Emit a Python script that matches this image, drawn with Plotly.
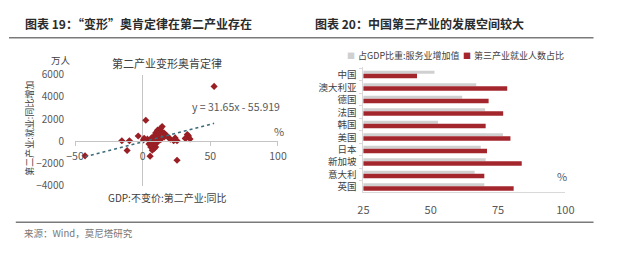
import plotly.graph_objects as go

W, H = 620, 263

# ---------------- data ----------------
# Left: scatter of secondary-industry GDP growth (%) vs employment change (万人)
gdp_growth = [52.8, 2.3, -42.6, -15.4, -9.8, -11.5, -3.3, 5.5, 25.4, 33.9,
              35.0, 32.0, 33.0, 31.5, 1.1, 3.5, 4.7, 6.0, 7.2, 8.4,
              9.6, 10.8, 13.3, 14.4, 12.0, 15.7, 16.9, 18.0, 19.2, 20.4,
              22.9, 25.4, 24.0, 9.6, 7.1, 10.8, 13.3, 6.5, 8.0, 11.5,
              12.5, 14.0, 10.0, 9.0, 7.5, 16.0, 0.5, 11.0, 13.0, 6.0, 8.5]
emp_change = [4950, 1890, -1320, 40, 40, -840, 470, -1350, -1720, 470,
              200, 300, 600, 250, 270, 190, -240, -530, 0, 470,
              750, 890, 1170, 1320, 600, 750, 610, 470, 330, 190,
              40, 40, 300, -530, -810, -100, 150, 300, -300, 350,
              950, 850, 200, -150, 150, 400, 120, 1000, 700, 50, -650]
trend_slope = 31.65
trend_intercept = -55.919
x_ticks_left = [-50, 0, 50, 100]
y_ticks_left = [-4000, -2000, 0, 2000, 4000, 6000]

# Right: service share of GDP vs tertiary employment share (%)
countries = ["中国", "澳大利亚", "德国", "法国", "韩国", "美国", "日本", "新加坡", "意大利", "英国"]
service_gdp_share = [51.4, 66.9, 61.7, 70.2, 52.7, 76.8, 68.6, 70.4, 66.3, 69.9]
tertiary_emp_share = [44.9, 78.4, 71.5, 76.9, 70.4, 79.6, 70.9, 83.8, 69.9, 80.8]
x_ticks_right = [25, 50, 75, 100]

RED = "#a3262c"
DARK_RED = "#9a1f24"
GRAY_BAR = "#d0d0d0"
AXIS = "#c4c4c4"
TXT = "#595959"
FONT = "Noto Sans CJK SC"


def fx(p):
    return p / W


def fy(p):
    return 1 - p / H


fig = go.Figure()

# ---------------- left scatter ----------------
fig.add_trace(go.Scatter(
    x=gdp_growth, y=emp_change, mode="markers",
    marker=dict(symbol="diamond", size=5.5, color=DARK_RED, line=dict(width=0)),
    xaxis="x", yaxis="y", showlegend=False, hoverinfo="x+y"))

x_lo, x_hi = min(gdp_growth), max(gdp_growth)
fig.add_trace(go.Scatter(
    x=[x_lo, x_hi],
    y=[trend_slope * x_lo + trend_intercept, trend_slope * x_hi + trend_intercept],
    mode="lines", line=dict(color="#3b6b7b", width=1.6, dash="dot"),
    xaxis="x", yaxis="y", showlegend=False, hoverinfo="skip"))

# ---------------- right bars ----------------
fig.add_trace(go.Bar(
    y=countries, x=service_gdp_share, orientation="h", base=0,
    marker=dict(color=GRAY_BAR, line=dict(width=0)),
    width=0.25, offset=-0.32, name="占GDP比重:服务业增加值",
    xaxis="x2", yaxis="y2", showlegend=False))
fig.add_trace(go.Bar(
    y=countries, x=tertiary_emp_share, orientation="h", base=0,
    marker=dict(color=RED, line=dict(width=0)),
    width=0.35, offset=-0.07, name="第三产业就业人数占比",
    xaxis="x2", yaxis="y2", showlegend=False))

# left plot geometry
lx0, lx1 = 68, 277
ly0, ly1 = 70, 188
y_dom = [fy(ly1), fy(ly0)]
y_rng = [-4000, 6000]
zero_pos = y_dom[0] + (0 - y_rng[0]) / (y_rng[1] - y_rng[0]) * (y_dom[1] - y_dom[0])
x_rng = [-50, 100]
x_dom = [fx(lx0), fx(lx1)]
xzero_pos = x_dom[0] + (0 - x_rng[0]) / (x_rng[1] - x_rng[0]) * (x_dom[1] - x_dom[0])

# right plot geometry
rx0, rx1 = 365, 573
ry0, ry1 = 62, 195

fig.update_layout(
    width=W, height=H, margin=dict(l=0, r=0, t=0, b=0),
    paper_bgcolor="white", plot_bgcolor="white",
    font=dict(family=FONT, size=10, color=TXT),
    barmode="overlay",
    xaxis=dict(domain=x_dom, range=x_rng, anchor="free", position=zero_pos,
               tickvals=x_ticks_left, showline=True, linecolor=AXIS, linewidth=1,
               ticks="outside", ticklen=4, tickcolor=AXIS,
               showgrid=False, zeroline=True, zerolinecolor=AXIS, zerolinewidth=1,
               tickfont=dict(size=10.5, color=TXT), ticklabelstandoff=1),
    yaxis=dict(domain=y_dom, range=y_rng, anchor="x", tickvals=y_ticks_left,
               showline=False, showgrid=False, zeroline=False, ticks="",
               tickfont=dict(size=10, color=TXT), ticklabelstandoff=10),
    yaxis3=dict(domain=y_dom, range=y_rng, overlaying="y", anchor="free",
                position=xzero_pos, tickvals=y_ticks_left, showticklabels=False,
                ticks="outside", ticklen=4, tickcolor=AXIS, showline=False,
                showgrid=False, zeroline=False),
    xaxis2=dict(domain=[fx(rx0), fx(rx1)], range=[25, 100], anchor="y2",
                tickvals=x_ticks_right, showline=True, linecolor="#d9d9d9",
                showgrid=False, zeroline=False, ticks="",
                tickfont=dict(size=11, color=TXT), ticklabelstandoff=8),
    yaxis2=dict(domain=[fy(ry1), fy(ry0)], anchor="x2", type="category",
                range=[9.4, -0.6], showline=True, linecolor="#d9d9d9",
                ticks="outside", tickson="boundaries", ticklen=3, tickcolor="#d9d9d9",
                showgrid=False, zeroline=False,
                tickfont=dict(size=9.5, color="#404040"), ticklabelstandoff=4),
)

ann = []


def add_text(text, x, y, size=10, color=TXT, xanchor="center", yanchor="middle",
             angle=0, bold=False):
    ann.append(dict(text=f"<b>{text}</b>" if bold else text, x=fx(x), y=fy(y),
                    xref="paper", yref="paper", showarrow=False,
                    xanchor=xanchor, yanchor=yanchor, textangle=angle,
                    font=dict(size=size, color=color, family=FONT)))


# headers
add_text("图表 19：“变形”奥肯定律在第二产业存在", 14, 15, size=12, color="#2b2b2b",
         xanchor="left", bold=True)
add_text("图表 20：中国第三产业的发展空间较大", 313, 15, size=12, color="#2b2b2b",
         xanchor="left", bold=True)

# left chart texts
add_text("第二产业变形奥肯定律", 163, 57, size=11, color="#404040")
add_text("万人", 54, 54, size=9.5, color="#404040")
add_text("第二产业:就业:同比增加", 21, 127, size=9, color="#404040", angle=-90)
add_text("GDP:不变价:第二产业:同比", 163, 201, size=10, color="#404040")
add_text(f"y = {trend_slope}x - {abs(trend_intercept)}", 234, 104, size=10.5, color=TXT)
add_text("%", 278, 130, size=11, color=TXT)

# right chart legend (manual)
add_text("■", 352, 49, size=8, color=GRAY_BAR)
add_text("占GDP比重:服务业增加值", 357, 49, size=9, color="#404040", xanchor="left")
add_text("■", 472, 49, size=8, color=RED)
add_text("第三产业就业人数占比", 477, 49, size=9, color="#404040", xanchor="left")
add_text("%", 570, 178, size=11, color=TXT)

# source
add_text("来源：Wind，莫尼塔研究", 13, 238, size=9.5, color="#777777", xanchor="left")

fig.update_layout(annotations=ann)

fig.update_layout(shapes=[
    dict(type="line", xref="paper", yref="paper", x0=fx(0), x1=fx(602),
         y0=fy(30.5), y1=fy(30.5), line=dict(color="#7a7a7a", width=1.5)),
    dict(type="line", xref="paper", yref="paper", x0=fx(7), x1=fx(602),
         y0=fy(227), y1=fy(227), line=dict(color="#7a7a7a", width=1.5)),
])

fig.write_html("out.html")
